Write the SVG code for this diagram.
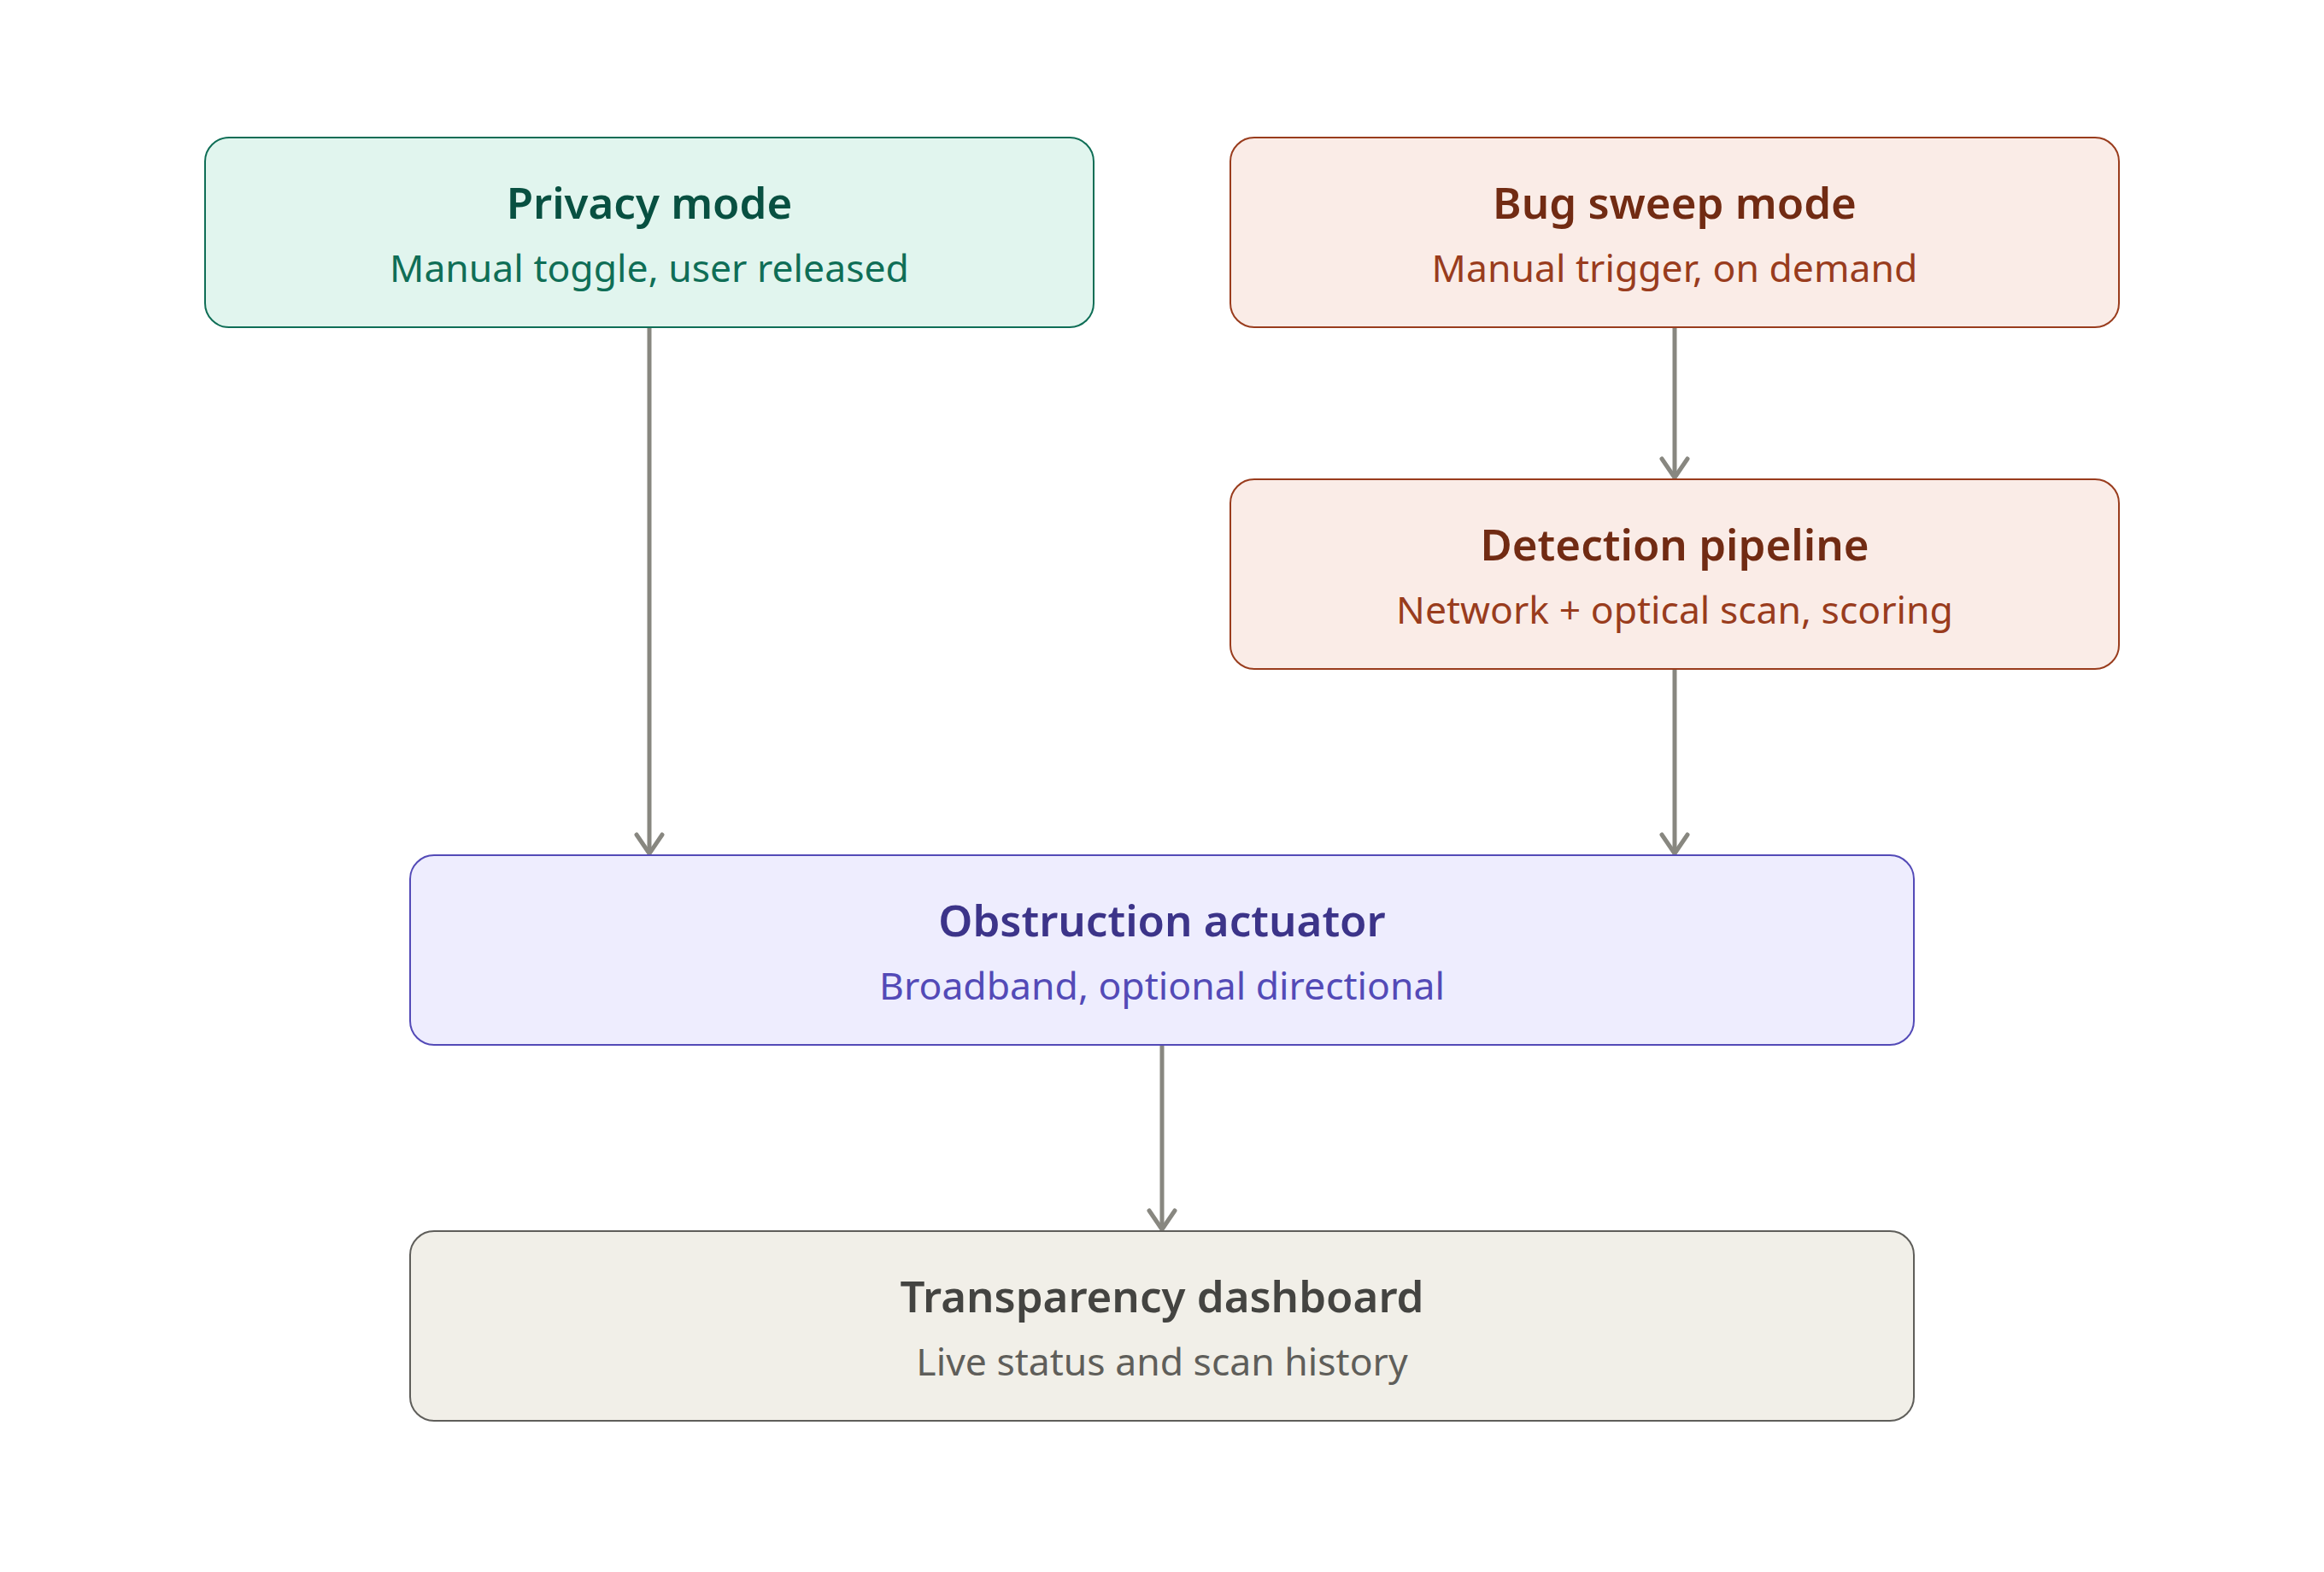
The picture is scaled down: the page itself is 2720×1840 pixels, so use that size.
<svg xmlns="http://www.w3.org/2000/svg" width="2720" height="1840" viewBox="0 0 2720 1840">
<style>
.box{stroke-width:2}
.t{font-family:"Noto Sans","Open Sans",sans-serif;font-weight:600;font-size:51px;text-anchor:middle}
.s{font-family:"Noto Sans","Open Sans",sans-serif;font-weight:400;font-size:44.5px;text-anchor:middle}
.g .box{fill:#e1f5ee;stroke:#0f6e56}.g .t{fill:#085041}.g .s{fill:#0f6e56}
.c .box{fill:#faece7;stroke:#993c1d}.c .t{fill:#712b13}.c .s{fill:#993c1d}
.p .box{fill:#eeedfe;stroke:#534ab7}.p .t{fill:#3c3489}.p .s{fill:#534ab7}
.n .box{fill:#f1efe8;stroke:#5f5e5a}.n .t{fill:#444441}.n .s{fill:#5f5e5a}
.e{stroke:#888780;stroke-width:5;fill:none;marker-end:url(#ah)}
</style>
<defs>
<marker id="ah" markerUnits="userSpaceOnUse" viewBox="-30 -20 36 40" refX="0" refY="0" markerWidth="36" markerHeight="40" orient="auto">
<path d="M-22 -15 L0 0 L-22 15" fill="none" stroke="#888780" stroke-width="5" stroke-linecap="round" stroke-linejoin="round"/>
</marker>
</defs>
<rect width="2720" height="1840" fill="#ffffff"/>
<g id="connectors">
<path class="e" d="M760 384 V999"/>
<path class="e" d="M1960 384 V559"/>
<path class="e" d="M1960 784 V999"/>
<path class="e" d="M1360 1224 V1439"/>
</g>
<g id="privacy" class="g">
<rect class="box" x="240" y="161" width="1040" height="222" rx="28"/>
<text class="t" x="760" y="256">Privacy mode</text>
<text class="s" x="760" y="330">Manual toggle, user released</text>
</g>
<g id="bugsweep" class="c">
<rect class="box" x="1440" y="161" width="1040" height="222" rx="28"/>
<text class="t" x="1960" y="256">Bug sweep mode</text>
<text class="s" x="1960" y="330">Manual trigger, on demand</text>
</g>
<g id="detection" class="c">
<rect class="box" x="1440" y="561" width="1040" height="222" rx="28"/>
<text class="t" x="1960" y="656">Detection pipeline</text>
<text class="s" x="1960" y="730">Network + optical scan, scoring</text>
</g>
<g id="obstruction" class="p">
<rect class="box" x="480" y="1001" width="1760" height="222" rx="28"/>
<text class="t" x="1360" y="1096">Obstruction actuator</text>
<text class="s" x="1360" y="1170">Broadband, optional directional</text>
</g>
<g id="transparency" class="n">
<rect class="box" x="480" y="1441" width="1760" height="222" rx="28"/>
<text class="t" x="1360" y="1536">Transparency dashboard</text>
<text class="s" x="1360" y="1610">Live status and scan history</text>
</g>
</svg>
